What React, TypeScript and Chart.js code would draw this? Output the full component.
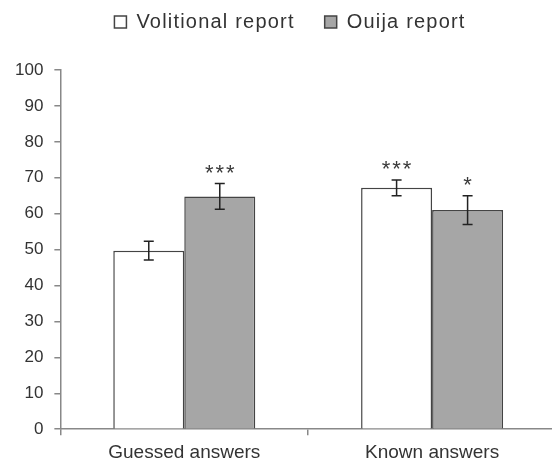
import React, { useEffect, useRef } from "react";
import { Chart, registerables } from "chart.js";

Chart.register(...registerables);

const categories = ["Guessed answers", "Known answers"];
const seriesNames = ["Volitional report", "Ouija report"];
const volitional = [49.7, 67.2];
const ouija = [64.8, 61.0];
const volitionalErr = [2.6, 2.2];
const ouijaErr = [3.6, 4.0];
const volitionalStars = ["", "***"];
const ouijaStars = ["***", "*"];
const yTicks = { min: 0, max: 100, step: 10 };

const FONT = "'Liberation Sans', Arial, sans-serif";

const errorPlugin = {
  id: "errorBars",
  afterDatasetsDraw(chart: any) {
    const ctx = chart.ctx;
    const y = chart.scales.y;
    const errs = [volitionalErr, ouijaErr];
    const stars = [volitionalStars, ouijaStars];
    chart.data.datasets.forEach((ds: any, di: number) => {
      const meta = chart.getDatasetMeta(di);
      meta.data.forEach((bar: any, i: number) => {
        const v = ds.data[i];
        const e = errs[di][i];
        const x = bar.x;
        const top = y.getPixelForValue(v + e);
        const bot = y.getPixelForValue(v - e);
        ctx.save();
        ctx.strokeStyle = "#222";
        ctx.lineWidth = 1.5;
        ctx.beginPath();
        ctx.moveTo(x, top);
        ctx.lineTo(x, bot);
        ctx.moveTo(x - 5, top);
        ctx.lineTo(x + 5, top);
        ctx.moveTo(x - 5, bot);
        ctx.lineTo(x + 5, bot);
        ctx.stroke();
        const s = stars[di][i];
        if (s) {
          ctx.fillStyle = "#3a3a3a";
          ctx.font = `22px ${FONT}`;
          (ctx as any).letterSpacing = "2px";
          ctx.textAlign = "center";
          ctx.textBaseline = "alphabetic";
          ctx.fillText(s, x + 1, top - 4);
        }
        ctx.restore();
      });
    });
  },
};

const legendTweak = {
  id: "legendTweak",
  beforeInit(chart: any) {
    const lg = chart.legend;
    const origFit = lg.fit;
    const origDraw = lg.draw;
    lg.fit = function () {
      const ctx = chart.ctx;
      const prev = ctx.letterSpacing;
      ctx.letterSpacing = "1.2px";
      origFit.call(this);
      ctx.letterSpacing = prev || "0px";
      this.height += 10;
    };
    lg.draw = function () {
      const ctx = chart.ctx;
      ctx.save();
      ctx.translate(10, -18);
      ctx.letterSpacing = "1.2px";
      origDraw.call(this);
      ctx.restore();
    };
  },
};

export default function App() {
  const ref = useRef<HTMLCanvasElement>(null);
  useEffect(() => {
    if (!ref.current) return;
    const chart = new Chart(ref.current, {
      type: "bar",
      data: {
        labels: categories,
        datasets: [
          {
            label: seriesNames[0],
            data: volitional,
            backgroundColor: "#ffffff",
            borderColor: "#444444",
            borderWidth: 1.5,
          },
          {
            label: seriesNames[1],
            data: ouija,
            backgroundColor: "#a6a6a6",
            borderColor: "#444444",
            borderWidth: 1.5,
          },
        ],
      },
      options: {
        animation: false,
        responsive: false,
        layout: { padding: { left: 4, right: 4, top: 0, bottom: -6 } },
        datasets: { bar: { categoryPercentage: 0.573, barPercentage: 1 } },
        plugins: {
          tooltip: { enabled: false },
          legend: {
            position: "top",
            labels: {
              boxWidth: 12,
              boxHeight: 12,
              padding: 30,
              color: "#333",
              font: { family: FONT, size: 20 },
            },
          },
        },
        scales: {
          x: {
            grid: {
              offset: true,
              drawOnChartArea: false,
              drawTicks: true,
              tickLength: 6,
              color: "#888",
              lineWidth: 1.5,
            },
            border: { color: "#888", width: 1.5 },
            ticks: {
              color: "#333",
              padding: 6,
              font: { family: FONT, size: 19 },
            },
          },
          y: {
            min: yTicks.min,
            max: yTicks.max,
            grid: {
              drawOnChartArea: false,
              drawTicks: true,
              tickLength: 6,
              color: "#888",
              lineWidth: 1.5,
            },
            border: { color: "#888", width: 1.5 },
            ticks: {
              stepSize: yTicks.step,
              color: "#333",
              padding: 11,
              font: { family: FONT, size: 17 },
            },
          },
        },
      },
      plugins: [errorPlugin, legendTweak],
    });
    return () => chart.destroy();
  }, []);
  return (
    <div
      style={{
        position: "absolute",
        left: 0,
        top: 0,
        width: 552,
        height: 464,
        overflow: "hidden",
        background: "#fff",
      }}
    >
      <canvas ref={ref} width={560} height={464} style={{ display: "block" }} />
    </div>
  );
}
